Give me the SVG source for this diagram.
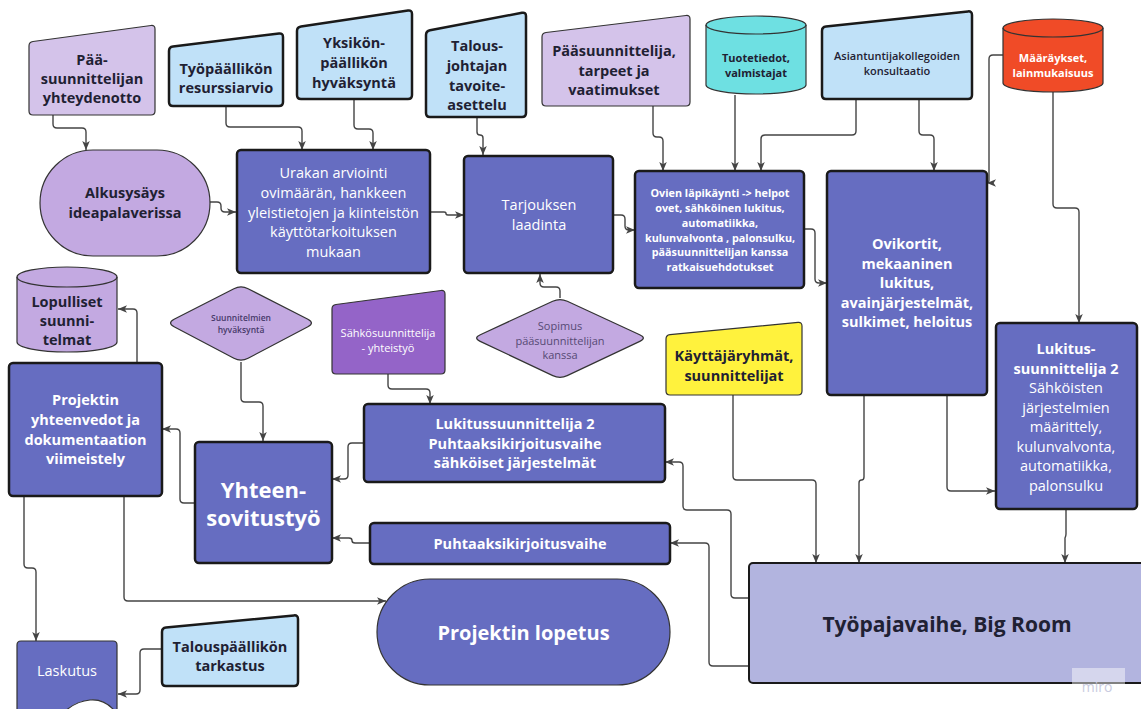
<svg xmlns="http://www.w3.org/2000/svg" width="1141" height="709" viewBox="0 0 1141 709">
<defs>
<marker id="arr" viewBox="0 0 10 10" refX="10" refY="5" markerWidth="9" markerHeight="9" markerUnits="userSpaceOnUse" orient="auto">
<path d="M0,0.8 L10,5 L0,9.2 L2.6,5 Z" fill="#444"/>
</marker>
<style>
text{font-family:"Open Sans","Noto Sans","Liberation Sans",sans-serif;text-anchor:middle}
.t{font-size:14.5px}
.b{font-weight:700}
.s{font-size:11px}
.w{fill:#ffffff}
.d{fill:#1f2133}
.dk{fill:#666dc1;stroke:#1a1a1a;stroke-width:2.5}
.lb{fill:#c0e1f8;stroke:#1a1a1a;stroke-width:2.5}
.lv{fill:#d4c3ea;stroke:#333;stroke-width:1.2}
.lm{fill:#c3a9e1;stroke:#333;stroke-width:1.2}
.th{stroke:#333;stroke-width:1.2}
.con path{fill:none;stroke:#444;stroke-width:1.4;marker-end:url(#arr)}
</style>
</defs>

<g id="connectors" class="con">
<path d="M53,115 V124 Q53,128 57,128 H82 Q86,128 86,132 V150"/>
<path d="M226,106 V123 Q226,127 230,127 H298 Q302,127 302,131 V150"/>
<path d="M354,99 V125 Q354,129 358,129 H369 Q373,129 373,133 V150"/>
<path d="M477,117 V132 Q477,135 480,135 Q483,135 483,138 V155"/>
<path d="M653,106 V133 Q653,137 657,137 H659 Q663,137 663,141 V171"/>
<path d="M735,95 V171"/>
<path d="M856,100 V131 Q856,135 852,135 H765 Q761,135 761,139 V171"/>
<path d="M919,100 V131 Q919,135 923,135 H930 Q934,135 934,139 V171"/>
<path d="M1003,55 H993 Q989,55 989,59 V180 Q989,183 987.5,183 H987"/>
<path d="M1053,92 V204 Q1053,208 1057,208 H1075 Q1079,208 1079,212 V323"/>
<path d="M210,202 H217 Q221,202 221,206 V208 Q221,212 225,212 H236"/>
<path d="M430,212 H444 Q446,212 446,213.5 Q446,215 448,215 H464"/>
<path d="M613,215 H621 Q625,215 625,219 V226 Q625,230 629,230 H635"/>
<path d="M804,229 H811 Q815,229 815,233 V279 Q815,283 819,283 H827"/>
<path d="M560,298 V291 Q560,287 556,287 H544 Q540,287 540,283 V274"/>
<path d="M864,395 V477 Q864,480 861.5,480 Q859,480 859,483 V563"/>
<path d="M947,395 V487 Q947,491 951,491 H995"/>
<path d="M1066,509 V534 Q1066,536 1065,538 V563"/>
<path d="M733,395 V476 Q733,480 737,480 H812 Q816,480 816,484 V563"/>
<path d="M749,598 H735 Q731,598 731,594 V514 Q731,510 727,510 H687 Q683,510 683,506 V466 Q683,462 679,462 H665"/>
<path d="M749,666 H713 Q709,666 709,662 V547 Q709,543 705,543 H670"/>
<path d="M388,374 V385 Q388,389 392,389 H426 Q430,389 430,393 V404"/>
<path d="M241,362 V398 Q241,402 245,402 H259 Q263,402 263,406 V441"/>
<path d="M364,443 H352 Q348,443 348,447 V475 Q348,479 344,479 H332"/>
<path d="M370,543 H355 Q352,543 352,540.5 Q352,538 349,538 H332"/>
<path d="M195,503 H184 Q180,503 180,499 V433 Q180,429 176,429 H162"/>
<path d="M137,362 V313 Q137,309 133,309 H118"/>
<path d="M124,496 V597 Q124,601 128,601 H386"/>
<path d="M24,496 V564 Q24,568 28,568 H32 Q36,568 36,572 V641"/>
<path d="M162,649 H144 Q140,649 140,653 V690 Q140,694 136,694 H118"/>
</g>

<g id="paasuunnittelijan-yhteydenotto">
<path class="lv" d="M29,46 Q29,42 33,41.5 L151,25.5 Q155,25 155,29 V111 Q155,115 151,115 H33 Q29,115 29,111 Z"/>
<text class="t b d" x="92"><tspan x="92" y="65">Pää-</tspan><tspan x="92" y="84">suunnittelijan</tspan><tspan x="92" y="103">yhteydenotto</tspan></text>
</g>

<g id="tyopaallikon-resurssiarvio">
<path class="lb" d="M169,51 Q169,47 173,46.5 L279,33.5 Q283,33 283,37 V102 Q283,106 279,106 H173 Q169,106 169,102 Z"/>
<text class="t b d"><tspan x="226" y="73.5">Työpäällikön</tspan><tspan x="226" y="92.5">resurssiarvio</tspan></text>
</g>

<g id="yksikon-paallikon-hyvaksynta">
<path class="lb" d="M297,31 Q297,27 301,26.4 L408,10.6 Q412,10 412,14 V95 Q412,99 408,99 H301 Q297,99 297,95 Z"/>
<text class="t b d"><tspan x="354" y="48">Yksikön-</tspan><tspan x="354" y="68">päällikön</tspan><tspan x="354" y="88">hyväksyntä</tspan></text>
</g>

<g id="talousjohtajan-tavoiteasettelu">
<path class="lb" d="M426,35 Q426,31 430,30.2 L522,12.8 Q526,12 526,16 V113 Q526,117 522,117 H430 Q426,117 426,113 Z"/>
<text class="t b d"><tspan x="477" y="51">Talous-</tspan><tspan x="477" y="71">johtajan</tspan><tspan x="477" y="90.5">tavoite-</tspan><tspan x="477" y="110">asettelu</tspan></text>
</g>

<g id="paasuunnittelija-tarpeet">
<path class="lv" d="M542,37 Q542,33 546,32.5 L686,15.5 Q690,15 690,19 V102 Q690,106 686,106 H546 Q542,106 542,102 Z"/>
<text class="t b d"><tspan x="614" y="56">Pääsuunnittelija,</tspan><tspan x="614" y="75.5">tarpeet ja</tspan><tspan x="614" y="95">vaatimukset</tspan></text>
</g>

<g id="tuotetiedot">
<path class="th" fill="#6ee0e2" d="M706,25 A50,9 0 0,1 806,25 V85 A50,9 0 0,1 706,85 Z"/>
<path class="th" fill="none" d="M706,25 A50,9 0 0,0 806,25"/>
<text class="s b d"><tspan x="756" y="61.5">Tuotetiedot,</tspan><tspan x="756" y="76.5">valmistajat</tspan></text>
</g>

<g id="asiantuntijakollegoiden-konsultaatio">
<path class="lb" d="M822,31 Q822,27 826,26.6 L968,11.4 Q972,11 972,15 V95 Q972,99 968,99 H826 Q822,99 822,95 Z"/>
<text class="s d" font-weight="600"><tspan x="897" y="60">Asiantuntijakollegoiden</tspan><tspan x="897" y="75">konsultaatio</tspan></text>
</g>

<g id="maaraykset">
<path class="th" fill="#f04b27" d="M1003,28 A50,9 0 0,1 1103,28 V83 A50,9 0 0,1 1003,83 Z"/>
<path class="th" fill="none" d="M1003,28 A50,9 0 0,0 1103,28"/>
<text class="s b w"><tspan x="1053" y="62">Määräykset,</tspan><tspan x="1053" y="77">lainmukaisuus</tspan></text>
</g>

<g id="alkusysays">
<rect class="lm" x="40" y="150" width="170" height="106" rx="53"/>
<text class="t b d"><tspan x="125" y="198">Alkusysäys</tspan><tspan x="125" y="218">ideapalaverissa</tspan></text>
</g>

<g id="urakan-arviointi">
<rect class="dk" x="237" y="150" width="193" height="123" rx="4"/>
<text class="t w"><tspan x="333.5" y="178">Urakan arviointi</tspan><tspan x="333.5" y="198">ovimäärän, hankkeen</tspan><tspan x="333.5" y="217.5">yleistietojen ja kiinteistön</tspan><tspan x="333.5" y="237">käyttötarkoituksen</tspan><tspan x="333.5" y="256.5">mukaan</tspan></text>
</g>

<g id="tarjouksen-laadinta">
<rect class="dk" x="464" y="156" width="149" height="117" rx="4"/>
<text class="t w"><tspan x="539" y="210">Tarjouksen</tspan><tspan x="539" y="230">laadinta</tspan></text>
</g>

<g id="ovien-lapikaynti">
<rect class="dk" x="635" y="171" width="169" height="117" rx="4"/>
<text class="b w" font-size="10.8"><tspan x="720" y="197">Ovien läpikäynti -&gt; helpot</tspan><tspan x="720" y="212">ovet, sähköinen lukitus,</tspan><tspan x="720" y="227">automatiikka,</tspan><tspan x="720" y="242">kulunvalvonta , palonsulku,</tspan><tspan x="720" y="256">pääsuunnittelijan kanssa</tspan><tspan x="720" y="271">ratkaisuehdotukset</tspan></text>
</g>

<g id="ovikortit">
<rect class="dk" x="827" y="171" width="160" height="224" rx="4"/>
<text class="t b w"><tspan x="907" y="249">Ovikortit,</tspan><tspan x="907" y="268.5">mekaaninen</tspan><tspan x="907" y="288">lukitus,</tspan><tspan x="907" y="308">avainjärjestelmät,</tspan><tspan x="907" y="327">sulkimet, heloitus</tspan></text>
</g>

<g id="lukitussuunnittelija-sahkoiset">
<rect class="dk" x="996" y="323" width="141" height="186" rx="4"/>
<text class="t w"><tspan class="b" x="1066" y="354">Lukitus-</tspan><tspan class="b" x="1066" y="373.5">suunnittelija 2</tspan><tspan x="1066" y="393">Sähköisten</tspan><tspan x="1066" y="412.5">järjestelmien</tspan><tspan x="1066" y="432">määrittely,</tspan><tspan x="1066" y="451.5">kulunvalvonta,</tspan><tspan x="1066" y="471">automatiikka,</tspan><tspan x="1066" y="490.5">palonsulku</tspan></text>
</g>

<g id="lopulliset-suunnitelmat">
<path class="lm" d="M17,277 A50,10 0 0,1 117,277 V342 A50,10 0 0,1 17,342 Z"/>
<path class="th" fill="none" d="M17,277 A50,10 0 0,0 117,277"/>
<text class="t b d"><tspan x="67" y="307">Lopulliset</tspan><tspan x="67" y="326">suunni-</tspan><tspan x="67" y="345">telmat</tspan></text>
</g>

<g id="suunnitelmien-hyvaksynta">
<path class="lm" d="M174.1,319.3 L233.9,288.7 Q241,285 248.1,288.7 L307.9,319.3 Q315,323 307.9,326.7 L248.1,358.3 Q241,362 233.9,358.3 L174.1,326.7 Q167,323 174.1,319.3 Z"/>
<text font-size="8.5" font-weight="600" fill="#47396a"><tspan x="241" y="321">Suunnitelmien</tspan><tspan x="241" y="333">hyväksyntä</tspan></text>
</g>

<g id="sahkosuunnittelija">
<path class="th" fill="#9464c8" d="M332,309 Q332,305 336,304.5 L441,290.5 Q445,290 445,294 V370 Q445,374 441,374 H336 Q332,374 332,370 Z"/>
<text class="s w"><tspan x="388" y="337">Sähkösuunnittelija</tspan><tspan x="388" y="352">- yhteistyö</tspan></text>
</g>

<g id="sopimus">
<path class="lm" d="M480.3,334.7 L552.7,301.3 Q560,298 567.3,301.3 L639.7,334.7 Q647,338 639.8,341.4 L567.2,375.6 Q560,379 552.8,375.6 L480.2,341.4 Q473,338 480.3,334.7 Z"/>
<text class="s" fill="#564a74"><tspan x="560" y="330">Sopimus</tspan><tspan x="560" y="345">pääsuunnittelijan</tspan><tspan x="560" y="359">kanssa</tspan></text>
</g>

<g id="kayttajaryhmat">
<path class="th" fill="#fff23d" d="M666,339 Q666,335 670,334.6 L798,322.4 Q802,322 802,326 V391 Q802,395 798,395 H670 Q666,395 666,391 Z"/>
<text class="t b d"><tspan x="734" y="361">Käyttäjäryhmät,</tspan><tspan x="734" y="380.5">suunnittelijat</tspan></text>
</g>

<g id="projektin-yhteenvedot">
<rect class="dk" x="9" y="363" width="153" height="133" rx="4"/>
<text class="t b w"><tspan x="85.5" y="405">Projektin</tspan><tspan x="85.5" y="425">yhteenvedot ja</tspan><tspan x="85.5" y="444.5">dokumentaation</tspan><tspan x="85.5" y="464">viimeistely</tspan></text>
</g>

<g id="lukitussuunnittelija-puhtaaksi">
<rect class="dk" x="364" y="404" width="301" height="78" rx="4"/>
<text class="t b w"><tspan x="515" y="429">Lukitussuunnittelija 2</tspan><tspan x="515" y="448.5">Puhtaaksikirjoitusvaihe</tspan><tspan x="515" y="468">sähköiset järjestelmät</tspan></text>
</g>

<g id="yhteensovitustyo">
<rect class="dk" x="195" y="442" width="137" height="121" rx="4"/>
<text class="b w" font-size="22"><tspan x="263.5" y="498">Yhteen-</tspan><tspan x="263.5" y="526">sovitustyö</tspan></text>
</g>

<g id="puhtaaksikirjoitusvaihe">
<rect class="dk" x="370" y="523" width="300" height="41" rx="4"/>
<text class="t b w" x="520" y="548.5">Puhtaaksikirjoitusvaihe</text>
</g>

<g id="projektin-lopetus">
<rect x="377" y="579" width="293" height="106" rx="53" fill="#666dc1" stroke="#333" stroke-width="1.2"/>
<text class="b w" font-size="20" x="523.5" y="640">Projektin lopetus</text>
</g>

<g id="tyopajavaihe">
<rect x="749" y="563" width="400" height="120" rx="4" fill="#b2b4df" stroke="#1a1a1a" stroke-width="2"/>
<text class="b d" font-size="21" x="947" y="631.5">Työpajavaihe, Big Room</text>
</g>

<g id="talouspaallikon-tarkastus">
<path class="lb" d="M162,632 Q162,628 166,627.6 L294,615.4 Q298,615 298,619 V682 Q298,686 294,686 H166 Q162,686 162,682 Z"/>
<text class="t b d"><tspan x="230" y="652">Talouspäällikön</tspan><tspan x="230" y="671">tarkastus</tspan></text>
</g>

<g id="laskutus">
<path fill="#666dc1" stroke="#333" stroke-width="1.2" d="M21,641 H113 Q117,641 117,645 V714 C110,704 101,699 90,700 C78,701 70,706 62,714 L17,714 V645 Q17,641 21,641 Z"/>
<text class="t w" x="67" y="676">Laskutus</text>
</g>

<g id="watermark">
<rect x="1072" y="668" width="53" height="30" fill="#ffffff" fill-opacity="0.45"/>
<text x="1097" y="692" font-size="14" fill="#c9cbe0">miro</text>
</g>
</svg>
